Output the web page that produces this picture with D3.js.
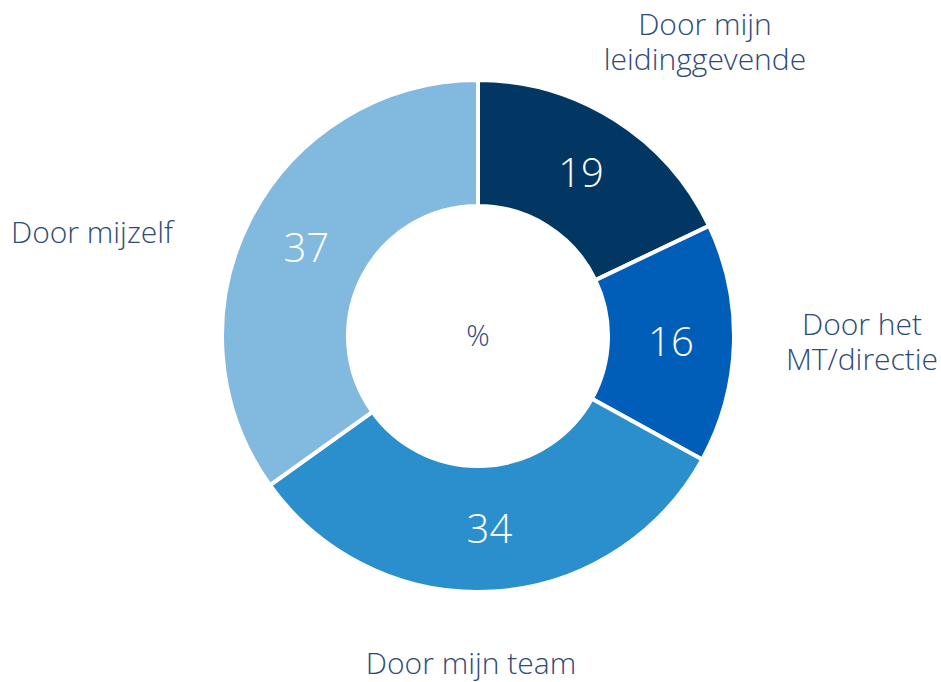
<!DOCTYPE html>
<html>
<head>
<meta charset="utf-8">
<script src="https://cdn.jsdelivr.net/npm/d3@7"></script>
<style>
  html, body { margin: 0; padding: 0; background: #fff; }
  svg text { font-family: "Segoe UI", "Open Sans", "Noto Sans", sans-serif; font-weight: 300; }
</style>
</head>
<body>
<svg id="chart" width="941" height="682"></svg>
<script>
var categories = [
    ['Door mijn', 'leidinggevende'],
    ['Door het', 'MT/directie'],
    ['Door mijn team'],
    ['Door mijzelf']
];
var values = [19, 16, 34, 37];
var colors = ['#023764', '#005eb8', '#2b8fce', '#82b9df'];
var centerLabel = '%';

// where the category labels sit, relative to the donut centre
var labelPos = [[227, -294], [384, 6], [-7, 327], [-386, -104]];

var svg = d3.select('#chart');
var cx = 478, cy = 336;
var outerR = 256, innerR = 130;
var lineH = 1.17;

var g = svg.append('g').attr('transform', 'translate(' + cx + ',' + cy + ')');

var pie = d3.pie().sort(null).value(function(d) { return d; });
var arc = d3.arc().innerRadius(innerR).outerRadius(outerR);
var arcs = pie(values);

g.selectAll('path.slice')
    .data(arcs)
    .enter().append('path')
    .attr('class', 'slice')
    .attr('d', arc)
    .attr('fill', function(d, i) { return colors[i]; })
    .attr('stroke', '#fff')
    .attr('stroke-width', 4);

g.selectAll('text.value')
    .data(arcs)
    .enter().append('text')
    .attr('class', 'value')
    .attr('transform', function(d) {
        var c = arc.centroid(d);
        return 'translate(' + c[0] + ',' + c[1] + ')';
    })
    .attr('text-anchor', 'middle')
    .attr('dy', '0.35em')
    .attr('fill', '#fff')
    .style('font-size', '40px')
    .text(function(d) { return d.data; });

g.append('text')
    .attr('text-anchor', 'middle')
    .attr('dy', '0.35em')
    .attr('fill', '#2e4a78')
    .style('font-size', '29px')
    .text(centerLabel);

var labels = g.selectAll('text.cat')
    .data(categories)
    .enter().append('text')
    .attr('class', 'cat')
    .attr('text-anchor', 'middle')
    .attr('fill', '#2e4a78')
    .style('font-size', '30px')
    .attr('x', function(d, i) { return labelPos[i][0]; })
    .attr('y', function(d, i) { return labelPos[i][1]; });

labels.each(function(lines, i) {
    var t = d3.select(this);
    var start = -(lines.length - 1) / 2;
    lines.forEach(function(line, j) {
        t.append('tspan')
            .attr('x', labelPos[i][0])
            .attr('dy', j === 0 ? (start * lineH + 0.35) + 'em' : lineH + 'em')
            .text(line);
    });
});
</script>
</body>
</html>
